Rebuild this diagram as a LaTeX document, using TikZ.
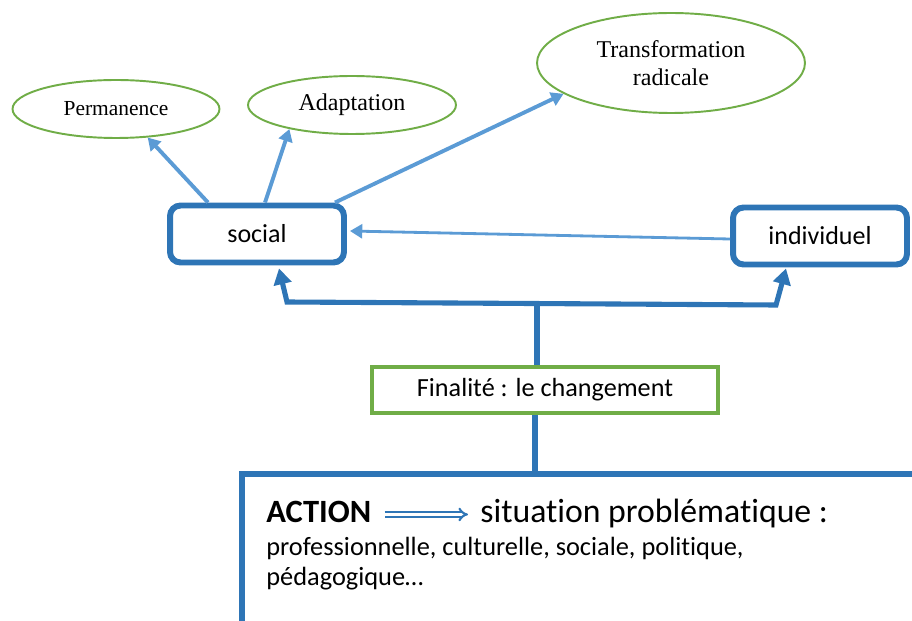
\documentclass[tikz,border=0pt]{standalone}
\usepackage{fontspec}
\setmainfont{Liberation Serif}
\newfontfamily\calib[Ligatures=NoCommon]{Carlito}
\usetikzlibrary{positioning,arrows.meta,calc,shapes.geometric}
\definecolor{chgDark}{HTML}{2E75B6}
\definecolor{chgLight}{HTML}{5B9BD5}
\definecolor{chgGreen}{HTML}{70AD47}
\tikzset{
  chgaim/.style={ellipse, draw=chgGreen, line width=1.1pt, inner sep=0pt,
                 font=\fontsize{13.7}{16}\selectfont, align=center},
  chglevel/.style={rectangle, rounded corners=6pt, draw=chgDark, line width=3.4pt,
                   minimum width=3.48cm, minimum height=1.14cm, inner sep=0pt,
                   font=\calib\fontsize{14.8}{17}\selectfont},
  chgend/.style={rectangle, draw=chgGreen, line width=2.3pt,
                 minimum width=6.92cm, minimum height=0.92cm, inner sep=0pt,
                 font=\calib\fontsize{14.9}{17}\selectfont},
  chgthin/.style={draw=chgLight, line width=2.2pt, -{Triangle[length=7pt,width=8pt]}},
  chgthick/.style={draw=chgDark, line width=2.9pt},
  chgtext/.style={font=\calib\fontsize{15}{17}\selectfont, inner sep=0pt},
}

\begin{document}
\begin{tikzpicture}[x=0.02cm, y=-0.02cm]
  \useasboundingbox (0,0) rectangle (912,621);
  \clip (0,0) rectangle (912,621);

  % what the change can lead to
  \node[chgaim, minimum width=4.14cm, minimum height=1.16cm, font=\fontsize{12.2}{15}\selectfont] (perm) at (116,109) {Permanence};
  \node[chgaim, minimum width=4.16cm, minimum height=1.16cm] (adapt) at (352,105) {Adaptation};
  \node[chgaim, minimum width=5.36cm, minimum height=2.0cm] (trans) at (671,63) {Transformation\\radicale};

  % the two levels
  \node[chglevel] (social) at (257,234) {social};
  \node[chglevel] (indiv) at (820,236) {individuel};

  \node[chgend] (fin) at (545,390) {Finalité : le changement};

  \draw[chgthin] ($(social.north)+(-49,0)$) -- (perm.318);
  \draw[chgthin] ($(social.north)+(8,0)$) -- (adapt.201);
  \draw[chgthin] ($(social.north)+(78,0)$) -- (trans.196);
  \draw[chgthin, line width=1.6pt] ($(indiv.west)+(0,3)$) -- ($(social.east)+(3,-3)$);

  % branching from the aim up to both levels
  \coordinate (junction) at (537,303);
  \coordinate (lcorner) at (287,302);
  \coordinate (rcorner) at (776,305);
  \draw[chgthick, {Triangle[length=9pt,width=10pt]}-{Triangle[length=9pt,width=10pt]}]
    ($(social.south)+(22,3)$) -- (lcorner) -- (rcorner) -- ($(indiv.south)+(-34,1)$);
  \draw[chgthick] ($(fin.north)+(-8,0)$) -- (junction);

  % action frame (runs off the page)
  \coordinate (actiontop) at (535,474);
  \draw[chgthick, line width=3pt] (960,474) -- (242,474) -- (242,660);
  \draw[chgthick] ($(fin.south)+(-10,0)$) -- (actiontop);

  \node[chgtext, anchor=base west, font=\calib\bfseries\fontsize{18.5}{20}\selectfont] (actword) at (266,522) {ACTION};
  \node[chgtext, anchor=base west, font=\calib\fontsize{19.2}{22}\selectfont] (probl) at (480,522) {situation problématique :};
  \draw[draw=chgDark, line width=1.2pt, double=white, double distance=1.3pt, -Implies]
    ($(actword.east)+(13,3)$) -- ($(probl.west |- actword.east)+(-12,3)$);
  \node[chgtext, anchor=north west, align=left] (kinds) at (266,537)
    {professionnelle, culturelle, sociale, politique,\\pédagogique…};
\end{tikzpicture}
\end{document}
